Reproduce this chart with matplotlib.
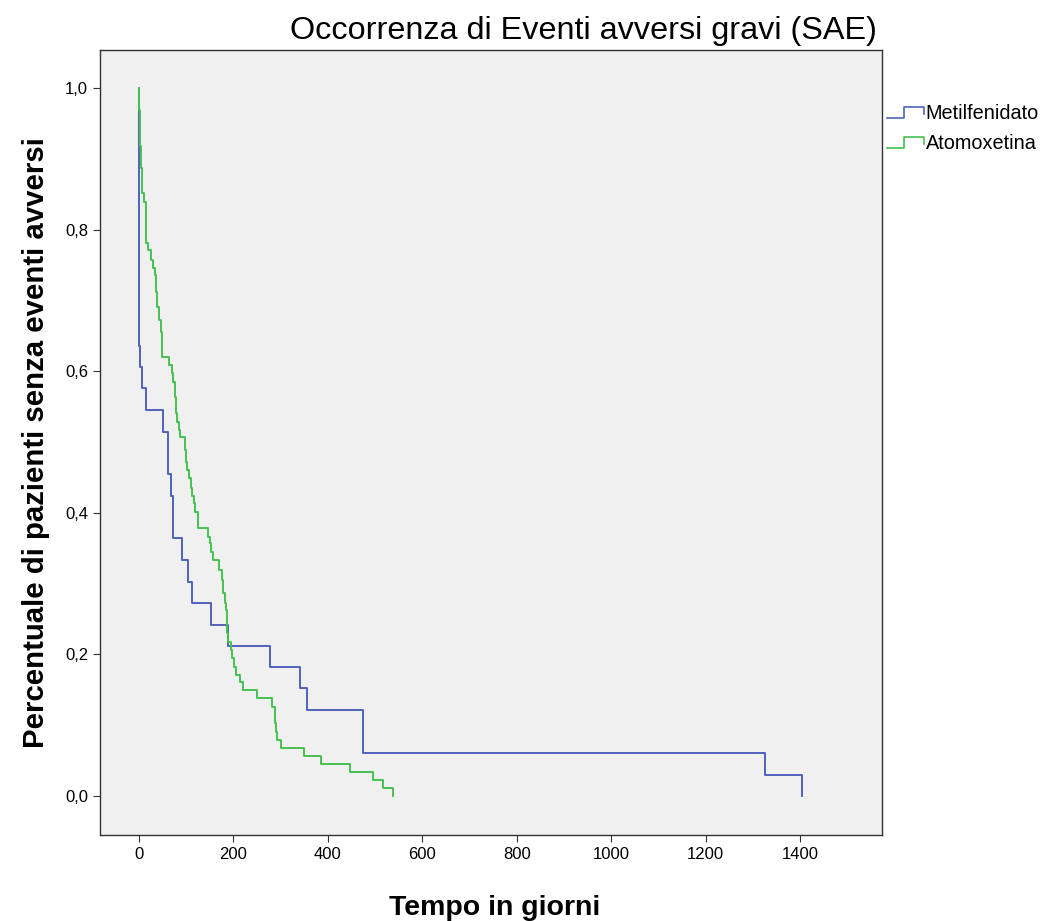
import numpy as np
import matplotlib
matplotlib.use("Agg")
import matplotlib.pyplot as plt
from matplotlib.lines import Line2D
from matplotlib.legend_handler import HandlerBase
from matplotlib.ticker import FuncFormatter

plt.rcParams['font.family'] = ['Liberation Sans', 'DejaVu Sans']

title = "Occorrenza di Eventi avversi gravi (SAE)"
xlabel = "Tempo in giorni"
ylabel = "Percentuale di pazienti senza eventi avversi"
groups = ["Metilfenidato", "Atomoxetina"]

# Kaplan-Meier levels and the time each level ends
blue_levels = [1.0, 0.727, 0.697, 0.636, 0.606, 0.576, 0.545, 0.515, 0.485, 0.455,
               0.424, 0.394, 0.364, 0.333, 0.303, 0.273, 0.242, 0.212, 0.182, 0.152,
               0.121, 0.061, 0.030]
blue_ends = [0.3, 0.6, 0.9, 1.2, 6, 15, 51, 61, 61.5, 68,
             72, 72.5, 91, 104, 112, 152, 188, 277, 341, 356,
             474, 1326, 1405]

green_levels = [1.0, 0.969, 0.944, 0.919, 0.887, 0.852, 0.839, 0.782, 0.771, 0.757,
                0.746, 0.736, 0.712, 0.691, 0.672, 0.655, 0.620, 0.609, 0.597, 0.585,
                0.564, 0.541, 0.528, 0.517, 0.507, 0.489, 0.472, 0.460, 0.449, 0.435,
                0.424, 0.414, 0.401, 0.379, 0.366, 0.357, 0.345, 0.333, 0.319, 0.305,
                0.287, 0.273, 0.263, 0.246, 0.230, 0.218, 0.206, 0.195, 0.182, 0.171,
                0.161, 0.150, 0.138, 0.126, 0.114, 0.103, 0.090, 0.079, 0.068, 0.056,
                0.045, 0.034, 0.023, 0.011]
green_ends = [1, 2, 3, 4, 7, 11, 15, 19, 25, 30,
              34, 36, 38, 42, 47, 49, 64, 70, 72, 76,
              78, 80, 85, 87, 97, 100, 102, 106, 110, 112,
              116, 119, 125, 146, 150, 152, 157, 169, 176, 178,
              182, 184, 186, 187, 188, 195, 197, 201, 205, 214,
              220, 250, 282, 288, 289, 290, 292, 301, 350, 385,
              447, 496, 517, 538]

colors = ["#4f63bd", "#44c250"]


class StepHandler(HandlerBase):
    def create_artists(self, legend, orig_handle, xdescent, ydescent,
                       width, height, fontsize, trans):
        xs = np.array([0, 0.45, 0.45, 1.0, 1.0]) * width - xdescent
        ys = np.array([0.1, 0.1, 0.85, 0.85, 0.35]) * height - ydescent
        ln = Line2D(xs, ys, color=orig_handle.get_color(), lw=1.2, transform=trans)
        return [ln]


fig = plt.figure(figsize=(10.47, 9.21), dpi=100)
ax = fig.add_axes([100 / 1047, 86 / 921, 782 / 1047, 785 / 921])
ax.set_facecolor("#f0f0f0")

handles = []
for levels, ends, c, name in [(blue_levels, blue_ends, colors[0], groups[0]),
                              (green_levels, green_ends, colors[1], groups[1])]:
    xs = np.r_[0, ends]
    ys = np.r_[levels, 0.0]
    ln, = ax.step(xs, ys, where="post", color=c, lw=1.4, label=name)
    handles.append(ln)

ax.set_xlim(-82.6, 1573.6)
ax.set_ylim(-0.055, 1.054)
ax.set_xticks(np.arange(0, 1401, 200))
ax.set_yticks(np.arange(0, 1.01, 0.2))
ax.yaxis.set_major_formatter(FuncFormatter(lambda v, p: f"{v:.1f}".replace(".", ",")))
ax.tick_params(labelsize=12, length=5, color="#333333")
for s in ax.spines.values():
    s.set_color("#333333")
    s.set_linewidth(1.0)

ax.set_xlabel(xlabel, fontsize=20.5, fontweight="bold")
ax.xaxis.set_label_coords(0.504, -0.077)
ax.set_ylabel(ylabel, fontsize=21.2, fontweight="bold", labelpad=11)

fig.text(583 / 1047, 1 - 31 / 921, title, fontsize=23.3, ha="center", va="center")

fig.legend(handles, groups, loc="upper left", bbox_to_anchor=(887 / 1047, 1 - 104 / 921),
           frameon=False, fontsize=14.3, handler_map={Line2D: StepHandler()},
           handlelength=1.85, handletextpad=0.1, borderaxespad=0, borderpad=0,
           labelspacing=0.55)

fig.savefig("out.png", dpi=100, facecolor="white")
